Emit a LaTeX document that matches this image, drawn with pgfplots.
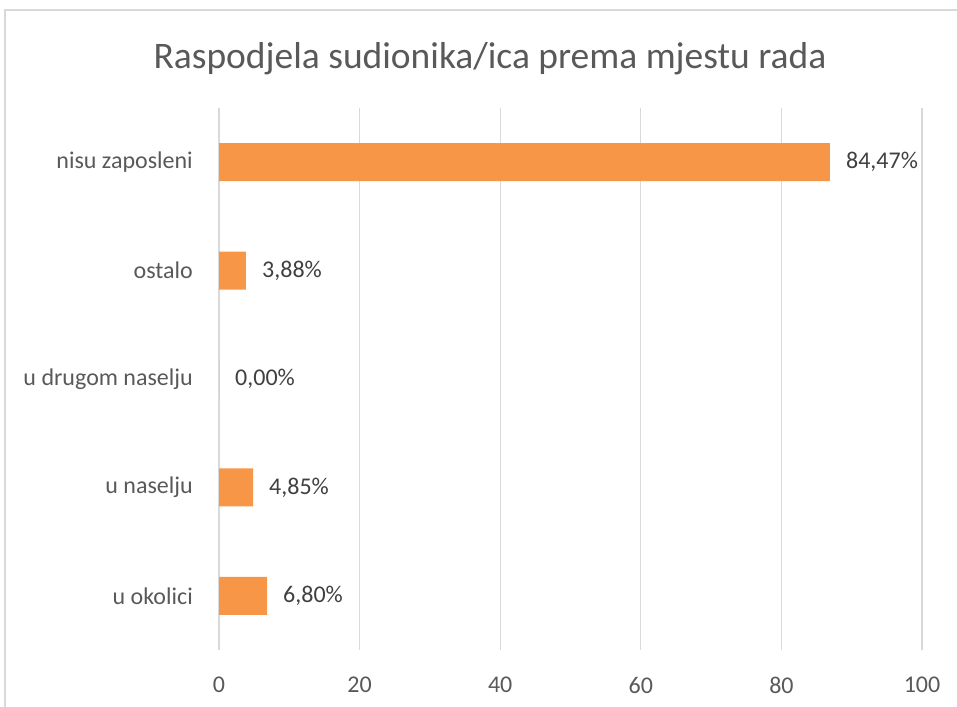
\documentclass[border=0pt]{standalone}
\usepackage{pgfplots}
\pgfplotsset{compat=1.18}
\usepackage{fontspec}
\setmainfont{Carlito}
\definecolor{barc}{HTML}{F79646}
\definecolor{txt}{HTML}{595959}
\definecolor{dlab}{HTML}{404040}
\definecolor{gridc}{HTML}{D9D9D9}
\begin{document}
\begin{tikzpicture}[x=1bp,y=1bp]
\useasboundingbox (0,0) rectangle (957,707);
\draw[gridc, line width=1.3bp] (5,-20) rectangle (980,697);
\node[txt, anchor=base, inner sep=0pt, font=\fontsize{37.5bp}{40bp}\selectfont] at (490,638) {Raspodjela sudionika/ica prema mjestu rada};
\begin{axis}[
  at={(219bp,57bp)}, anchor=south west,
  width=703bp, height=542bp, scale only axis,
  xbar, bar width=38bp,
  xmin=0, xmax=100, ymin=-0.5, ymax=4.5,
  xtick={0,20,40,60,80,100},
  ytick={0,1,2,3,4},
  yticklabels={u okolici, u naselju, u drugom naselju, ostalo, nisu zaposleni},
  xmajorgrids,
  major grid style={draw=gridc, line width=1.3bp},
  axis line style={draw=none},
  major tick length=0pt,
  tick style={draw=none},
  /pgf/number format/assume math mode=true,
  ticklabel style={font=\fontsize{24bp}{26bp}\selectfont, text=txt, inner sep=0pt},
  yticklabel shift=26bp,
  xticklabel shift=27bp,
  nodes near coords,
  point meta=explicit symbolic,
  nodes near coords style={anchor=west, xshift=16bp, inner sep=0pt, text=dlab, font=\fontsize{24bp}{26bp}\selectfont},
  clip=false,
]
\addplot[fill=barc, draw=none] coordinates {
  (6.83,0) [6,80\%]
  (4.84,1) [4,85\%]
  (0,2) [0,00\%]
  (3.84,3) [3,88\%]
  (86.9,4) [84,47\%]
};
\end{axis}
\end{tikzpicture}
\end{document}
